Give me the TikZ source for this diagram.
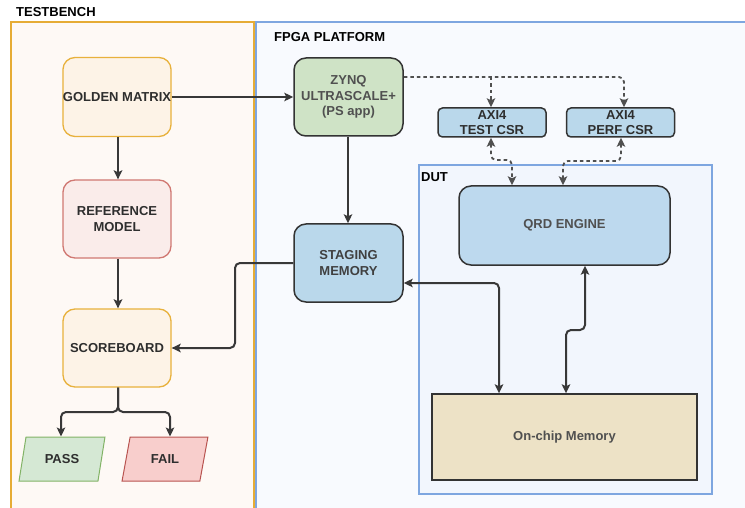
\documentclass[tikz,border=0pt]{standalone}
\usepackage{fontspec}
\setmainfont{Liberation Sans}
\usetikzlibrary{arrows.meta,shapes.geometric}

\definecolor{tbfill}{HTML}{FEF9F5}
\definecolor{tbline}{HTML}{E6AC35}
\definecolor{fpgafill}{HTML}{F8FAFE}
\definecolor{blueline}{HTML}{7EA6E0}
\definecolor{dutfill}{HTML}{F2F6FD}
\definecolor{goldfill}{HTML}{FDF3E7}
\definecolor{goldline}{HTML}{E8B13C}
\definecolor{reffill}{HTML}{FAECEA}
\definecolor{refline}{HTML}{D07872}
\definecolor{passfill}{HTML}{D5E8D4}
\definecolor{passline}{HTML}{82B366}
\definecolor{failfill}{HTML}{F8CECC}
\definecolor{failline}{HTML}{B85450}
\definecolor{zynqfill}{HTML}{CFE3C6}
\definecolor{memfill}{HTML}{BAD8EB}
\definecolor{qrdfill}{HTML}{BDD9EE}
\definecolor{chipfill}{HTML}{EDE2C6}
\definecolor{boxline}{HTML}{333333}
\definecolor{wire}{HTML}{383838}
\definecolor{darktext}{HTML}{2E2E2E}
\definecolor{graytext}{HTML}{505050}

\begin{document}
\begin{tikzpicture}[x=1pt,y=-1pt,
  tip/.tip={Stealth[length=9pt,width=8.5pt,inset=2pt]},
  lbl/.style={font=\fontsize{13}{15.5}\selectfont\bfseries, align=center, text=darktext},
  softbox/.style={lbl, draw, line width=1.3pt, rounded corners=12pt},
  hardbox/.style={lbl, draw=boxline, line width=1.5pt, rounded corners=12pt},
  csrbox/.style={lbl, draw=boxline, line width=1.5pt, rounded corners=4.5pt,
    fill=memfill, minimum width=108pt, minimum height=29pt, inner sep=0pt},
  slanted/.style={lbl, draw, line width=1pt, trapezium, trapezium left angle=70,
    trapezium right angle=110, trapezium stretches=true,
    minimum width=86pt, minimum height=44pt, inner sep=0pt},
  conn/.style={draw=wire, line width=2pt, rounded corners=5pt, -tip},
  biconn/.style={conn, tip-tip},
  dconn/.style={conn, draw=graytext, line width=1.8pt, dash pattern=on 3.5pt off 3pt}
]
\useasboundingbox (0,0) rectangle (745,508);
\fill[white] (0,0) rectangle (745,508);

\begin{scope}
\clip (0,0) rectangle (745,508);
% containers
\draw[fill=tbfill, draw=tbline, line width=1.4pt] (11,22) rectangle (254,520);
\draw[fill=fpgafill, draw=blueline, line width=1.4pt] (256,22) rectangle (760,520);
\end{scope}
\node[lbl, text=black, anchor=west, inner sep=0pt] (tbtitle) at (16,12) {TESTBENCH};
\node[lbl, text=black, anchor=west, inner sep=0pt] (fpgatitle) at (274,37) {FPGA PLATFORM};

\draw[fill=dutfill, draw=blueline, line width=1.2pt] (419,165) rectangle (712,494);
\node[lbl, text=black, anchor=west, inner sep=0pt] (duttitle) at (421,177) {DUT};

% testbench blocks
\node[softbox, draw=goldline, fill=goldfill, minimum width=108pt, minimum height=79pt, inner sep=0pt]
  (gold) at (117,97) {GOLDEN MATRIX};
\node[softbox, draw=refline, fill=reffill, minimum width=108pt, minimum height=78pt]
  (ref) at (117,219) {REFERENCE\\MODEL};
\node[softbox, draw=goldline, fill=goldfill, minimum width=108pt, minimum height=78pt]
  (score) at (117,348) {SCOREBOARD};
\node[slanted, draw=passline, fill=passfill] (pass) at (62,459) {PASS};
\node[slanted, draw=failline, fill=failfill] (fail) at (165,459) {FAIL};

% platform blocks
\node[hardbox, fill=zynqfill, text=graytext, minimum width=109pt, minimum height=78pt]
  (zynq) at (348.5,97) {ZYNQ\\ULTRASCALE+\\(PS app)};
\node[hardbox, fill=memfill, text=graytext!80!black, minimum width=109pt, minimum height=78pt]
  (staging) at (348.5,263) {STAGING\\MEMORY};
\node[csrbox] (testcsr) at (492,122.5) {AXI4\\TEST CSR};
\node[csrbox] (perfcsr) at (620.5,122.5) {AXI4\\PERF CSR};
\node[hardbox, fill=qrdfill, text=graytext, minimum width=211pt, minimum height=79pt]
  (qrd) at (564.5,225.5) {QRD ENGINE};
\node[hardbox, rounded corners=0pt, line width=1.4pt, fill=chipfill, text=graytext,
  minimum width=265pt, minimum height=86pt] (chip) at (564.5,437) {On-chip Memory};

% testbench flow
\draw[conn] (gold.east) -- (gold.east -| zynq.west);
\draw[conn] (gold.south -| 118,0) -- (ref.north -| 118,0);
\draw[conn] (ref.south -| 118,0) -- (score.north -| 118,0);
\draw[conn] (score.south -| 118,0) -- (118,412) -| (pass.north -| 61,0);
\draw[conn] (score.south -| 118,0) -- (118,412) -| (fail.north -| 170,0);

% platform flow
\draw[conn] (zynq.south -| 348,0) -- (staging.north -| 348,0);
\draw[conn] (staging.west |- 0,263) -- (235,263) -- (235,348) -- (score.east |- 0,348);
\draw[biconn] (staging.east |- 0,283) -| (chip.north -| 499,0);

% control/status bus
\draw[dconn] (zynq.east |- 0,77) -| (perfcsr.north -| 624,0);
\draw[dconn] (491,77) -- (testcsr.north -| 491,0);
\draw[dconn, tip-tip]
  (testcsr.south -| 491,0) -- (491,160) -- (512,160) -- (qrd.north -| 512,0);
\draw[dconn, tip-tip]
  (perfcsr.south -| 621,0) -- (621,161) -- (563,161) -- (qrd.north -| 563,0);

% engine to on-chip memory
\draw[biconn] (qrd.south -| 585,0) -- (585,330) -- (566,330) -- (chip.north -| 566,0);
\end{tikzpicture}
\end{document}
